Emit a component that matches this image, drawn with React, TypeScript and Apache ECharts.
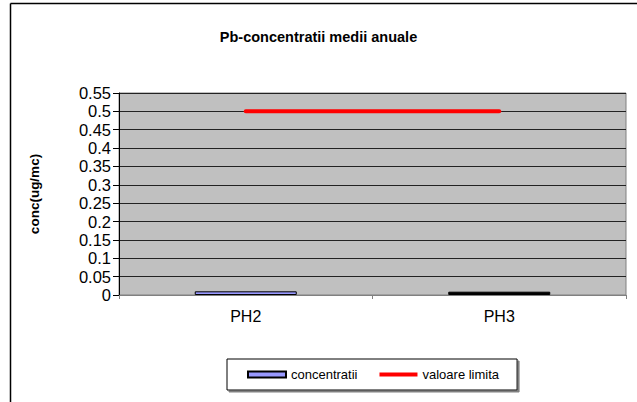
import React, { useEffect, useRef } from "react";
import * as echarts from "echarts";

const categories = ["PH2", "PH3"];
const concentratii = [0.01, 0.009];
const barColors = ["#9999FF", "#000000"];
const valoareLimita = [0.5, 0.5];
const yTicks = { min: 0, max: 0.55, interval: 0.05 };

const FONT = "'Liberation Sans', Arial, sans-serif";

export default function App() {
  const ref = useRef<HTMLDivElement>(null);
  useEffect(() => {
    const chart = echarts.init(ref.current!, null, { renderer: "svg" });
    chart.setOption({
      animation: false,
      backgroundColor: "#fff",
      textStyle: { fontFamily: FONT },
      title: {
        text: "Pb-concentratii medii anuale",
        left: "center",
        top: 24,
        textStyle: { fontFamily: FONT, fontSize: 14.5, fontWeight: "bold", color: "#000" },
      },
      graphic: [
        { type: "line", shape: { x1: 10.5, y1: 3.5, x2: 637, y2: 3.5 }, style: { stroke: "#000", lineWidth: 1.5 } },
        { type: "line", shape: { x1: 10.5, y1: 3.5, x2: 10.5, y2: 402 }, style: { stroke: "#000", lineWidth: 1.5 } },
      ],
      grid: {
        left: 119,
        top: 93,
        right: 11,
        bottom: 107,
        show: true,
        backgroundColor: "#C0C0C0",
        borderColor: "#808080",
        borderWidth: 1,
      },
      legend: {
        left: 227,
        top: 359,
        padding: [9, 18, 9, 20],
        itemGap: 22,
        itemWidth: 38,
        itemHeight: 6,
        borderColor: "#000",
        borderWidth: 1,
        backgroundColor: "#fff",
        shadowColor: "#808080",
        shadowOffsetX: 2,
        shadowOffsetY: 2,
        shadowBlur: 0,
        textStyle: { fontFamily: FONT, fontSize: 13, color: "#000" },
        data: [
          { name: "concentratii", icon: "rect", itemStyle: { color: "#9999FF", borderColor: "#000", borderWidth: 2 } },
          { name: "valoare limita", icon: "path://M0,0H40V4H0Z" },
        ],
      },
      xAxis: {
        type: "category",
        data: categories,
        boundaryGap: true,
        axisLine: { lineStyle: { color: "#808080", width: 1 } },
        axisTick: { show: true, length: 4, lineStyle: { color: "#808080" } },
        axisLabel: { margin: 13, fontFamily: FONT, fontSize: 16, color: "#000" },
      },
      yAxis: {
        type: "value",
        min: yTicks.min,
        max: yTicks.max,
        interval: yTicks.interval,
        name: "conc(ug/mc)",
        nameLocation: "middle",
        nameGap: 78,
        nameTextStyle: { fontFamily: FONT, fontSize: 13.5, fontWeight: "bold", color: "#000" },
        axisLine: { show: true, lineStyle: { color: "#000", width: 1 } },
        axisTick: { show: true, length: 6, lineStyle: { color: "#000" } },
        axisLabel: {
          margin: 8,
          fontFamily: FONT,
          fontSize: 16.5,
          color: "#000",
          formatter: (v: number) => String(parseFloat(v.toFixed(2))),
        },
        splitLine: { show: true, lineStyle: { color: "#222", width: 1 } },
      },
      series: [
        {
          name: "concentratii",
          type: "bar",
          data: concentratii.map((v, i) => ({ value: v, itemStyle: { color: barColors[i] } })),
          barWidth: 102,
          itemStyle: { color: "#9999FF", borderColor: "#000", borderWidth: 1 },
        },
        {
          name: "valoare limita",
          type: "line",
          data: valoareLimita,
          symbol: "none",
          lineStyle: { color: "#FF0000", width: 4, cap: "round" },
          itemStyle: { color: "#FF0000" },
        },
      ],
    });
    return () => chart.dispose();
  }, []);
  return (
    <div
      ref={ref}
      style={{ position: "fixed", left: 0, top: 0, width: 637, height: 402 }}
    />
  );
}
